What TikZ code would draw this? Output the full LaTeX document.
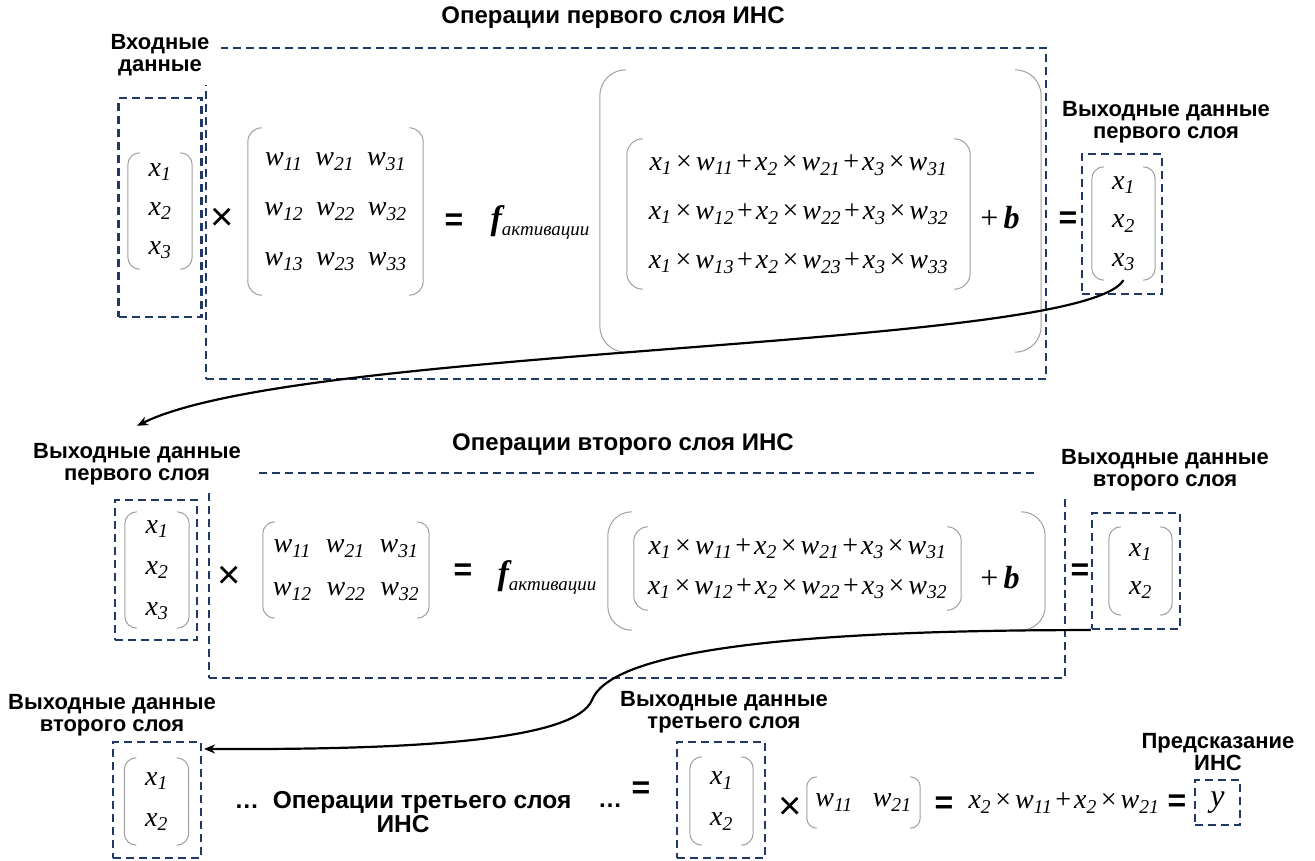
\documentclass[tikz,border=0pt]{standalone}
\usepackage{fontspec}
\setmainfont{Liberation Sans}
\newfontfamily\tnr{Liberation Serif}
\usepackage{xcolor}
\usetikzlibrary{arrows.meta, positioning}
\definecolor{navy}{RGB}{31,56,100}

\newcommand{\vx}[1]{\textit{x}\textsubscript{\textit{#1}}}
\newcommand{\vw}[1]{\textit{w}\textsubscript{\textit{#1}}}
\newcommand{\tms}{\hspace{4pt}×\hspace{4pt}}
\newcommand{\pls}{\hspace{3pt}+\hspace{3pt}}
\newcommand{\fact}{{\fontsize{34}{34}\selectfont\bfseries\itshape f}\raisebox{-6pt}{\fontsize{19}{19}\selectfont\itshape активации}}
\newcommand{\brk}[2]{%
  \draw[paren, rounded corners=#2] ([xshift=#2]#1.north west) -- (#1.north west) -- (#1.south west) -- ([xshift=#2]#1.south west);
  \draw[paren, rounded corners=#2] ([xshift=-#2]#1.north east) -- (#1.north east) -- (#1.south east) -- ([xshift=-#2]#1.south east);}

\begin{document}
\begin{tikzpicture}[x=1pt, y=-1pt,
        lbl/.style={font=\bfseries\fontsize{22}{22}\selectfont, align=center, fill=white, inner sep=1pt},
        ttl/.style={font=\bfseries\fontsize{24}{24}\selectfont},
        mth/.style={font=\tnr\fontsize{28}{28}\selectfont, inner sep=0pt},
        vec/.style={font=\tnr\fontsize{28}{#1}\selectfont, align=center, inner sep=0pt},
        dbox/.style={draw=navy, line width=2.1pt, dash pattern=on 8pt off 5pt, inner sep=0pt},
        paren/.style={draw=gray!75, line width=1pt},
        op/.style={font=\fontsize{40}{40}\selectfont, inner sep=0pt},
        eqop/.style={font=\bfseries\fontsize{32}{32}\selectfont, inner sep=0pt},
        arrow/.style={-{Stealth[length=11pt, width=9pt]}, line width=2.2pt}
    ]
    \useasboundingbox (0,0) rectangle (1315,860);

    % ============ FIRST LAYER ============
    \node[ttl] (title1) at (613,18) {Операции первого слоя ИНС};
    \node[dbox, minimum width=840, minimum height=331] (layer1) at (626,213.5) {};
    \node[lbl, minimum width=122, minimum height=60] (lblin1) at (160,55) {Входные\\данные};

    \node[dbox, minimum width=83, minimum height=219] (inbox1) at (160,207.5) {};
    \node[vec=39, minimum width=64, minimum height=116] (invec1) at (160,211) {\vx1\\\vx2\\\vx3};
    \node[op] (mul1) at (222,219) {×};
    \node[vec=50, minimum width=175, minimum height=167] (wmat1) at (335.5,211.5)
        {\vw{11}\hspace{13pt}\vw{21}\hspace{13pt}\vw{31}\\\vw{12}\hspace{13pt}\vw{22}\hspace{13pt}\vw{32}\\\vw{13}\hspace{13pt}\vw{23}\hspace{13pt}\vw{33}};
    \node[eqop] (eq1) at (454,222) {=};
    \node[mth] (fact1) at (540,222) {\fact};
    \node[minimum width=441, minimum height=282, inner sep=0pt] (outer1) at (820.5,211) {};
    \node[vec=49, minimum width=343, minimum height=150] (inner1) at (798.5,214)
        {\vx1\tms\vw{11}\pls\vx2\tms\vw{21}\pls\vx3\tms\vw{31}\\
         \vx1\tms\vw{12}\pls\vx2\tms\vw{22}\pls\vx3\tms\vw{32}\\
         \vx1\tms\vw{13}\pls\vx2\tms\vw{23}\pls\vx3\tms\vw{33}};
    \node[mth, font=\tnr\fontsize{32}{32}\selectfont] (plusb1) at (1000,218) {+\,\textbf{\textit{b}}};
    \node[eqop] (eq2) at (1068,220) {=};
    \node[dbox, minimum width=80, minimum height=140] (outbox1) at (1122,224) {};
    \node[vec=38.5, minimum width=63, minimum height=113] (outvec1) at (1123.5,223.5) {\vx1\\\vx2\\\vx3};
    \node[lbl] (lblout1) at (1166,122) {Выходные данные\\первого слоя};

    \brk{invec1}{12pt}
    \brk{wmat1}{14pt}
    \brk{outer1}{26pt}
    \brk{inner1}{16pt}
    \brk{outvec1}{12pt}

    % ============ SECOND LAYER ============
    \node[ttl] (title2) at (623,445) {Операции второго слоя ИНС};
    \node[dbox, minimum width=856, minimum height=205] (layer2) at (637,575.5) {};
    \node[lbl, minimum width=240, minimum height=58] (lblin2) at (137,464) {Выходные данные\\первого слоя};
    \node[lbl, minimum width=258, minimum height=58] (lblout2) at (1165,470) {Выходные данные\\второго слоя};

    \node[dbox, minimum width=82, minimum height=140] (inbox2) at (156,570) {};
    \node[vec=41, minimum width=64, minimum height=116] (invec2) at (157,570) {\vx1\\\vx2\\\vx3};
    \node[op] (mul2) at (229,577) {×};
    \node[vec=43, minimum width=166, minimum height=96] (wmat2) at (346,570)
        {\vw{11}\hspace{15pt}\vw{21}\hspace{15pt}\vw{31}\\\vw{12}\hspace{15pt}\vw{22}\hspace{15pt}\vw{32}};
    \node[eqop] (eq3) at (463,572) {=};
    \node[mth] (fact2) at (547,577) {\fact};
    \node[minimum width=437, minimum height=118, inner sep=0pt] (outer2) at (826.5,571) {};
    \node[vec=40, minimum width=327, minimum height=83] (inner2) at (797.5,568.5)
        {\vx1\tms\vw{11}\pls\vx2\tms\vw{21}\pls\vx3\tms\vw{31}\\
         \vx1\tms\vw{12}\pls\vx2\tms\vw{22}\pls\vx3\tms\vw{32}};
    \node[mth, font=\tnr\fontsize{32}{32}\selectfont] (plusb2) at (1000,578) {+\,\textbf{\textit{b}}};
    \node[eqop] (eq4) at (1080,572) {=};
    \node[dbox, minimum width=88, minimum height=116] (outbox2) at (1136,571) {};
    \node[vec=38, minimum width=63, minimum height=88] (outvec2) at (1140.5,571) {\vx1\\\vx2};

    \brk{invec2}{12pt}
    \brk{wmat2}{12pt}
    \brk{outer2}{24pt}
    \brk{inner2}{14pt}
    \brk{outvec2}{12pt}

    % ============ THIRD LAYER ============
    \node[lbl] (lblin3) at (112,715) {Выходные данные\\второго слоя};
    \node[dbox, minimum width=88, minimum height=116] (inbox3) at (157,800) {};
    \node[vec=41, minimum width=64, minimum height=87] (invec3) at (156.5,801.5) {\vx1\\\vx2};
    \node[lbl, font=\bfseries\fontsize{24.5}{22}\selectfont] (ops3) at (403,812) {\dots\ \ Операции третьего слоя\\ИНС};
    \node[font=\bfseries\fontsize{24}{24}\selectfont, inner sep=0pt] (dots3) at (610,806) {\dots};
    \node[eqop] (eq5) at (641,790) {=};

    \node[lbl] (lblout3) at (724,712) {Выходные данные\\третьего слоя};
    \node[dbox, minimum width=88, minimum height=116] (outbox3) at (721,800) {};
    \node[vec=41, minimum width=63, minimum height=88] (outvec3) at (721.5,801) {\vx1\\\vx2};
    \node[op] (mul3) at (790,808) {×};
    \node[vec=28, minimum width=113, minimum height=51] (wmat3) at (863.5,802.5) {\vw{11}\hspace{20pt}\vw{21}};
    \node[eqop] (eq6) at (944,805) {=};
    \node[mth] (res3) at (1064,803) {\vx2\tms\vw{11}\pls\vx2\tms\vw{21}};
    \node[eqop] (eq7) at (1177,803) {=};
    \node[dbox, minimum width=45, minimum height=45, font=\tnr\fontsize{32}{32}\selectfont\itshape] (ybox) at (1217.5,802.5) {y};
    \node[lbl] (lblpred) at (1218,752) {Предсказание\\ИНС};

    \brk{outvec3}{12pt}
    \brk{wmat3}{10pt}
    \brk{invec3}{12pt}

    % ============ ARROWS ============
    \coordinate (bend2) at (592,700);
    \draw[arrow] (outvec1.south) .. controls (1080,350) and (300,345) .. ([yshift=9pt]lblin2.north);
    \draw[arrow] (outbox2.south west) .. controls (760,630) and (610,655) .. (bend2)
        .. controls (575,740) and (420,750) .. ([xshift=2pt, yshift=-8pt]inbox3.north east);

\end{tikzpicture}
\end{document}
